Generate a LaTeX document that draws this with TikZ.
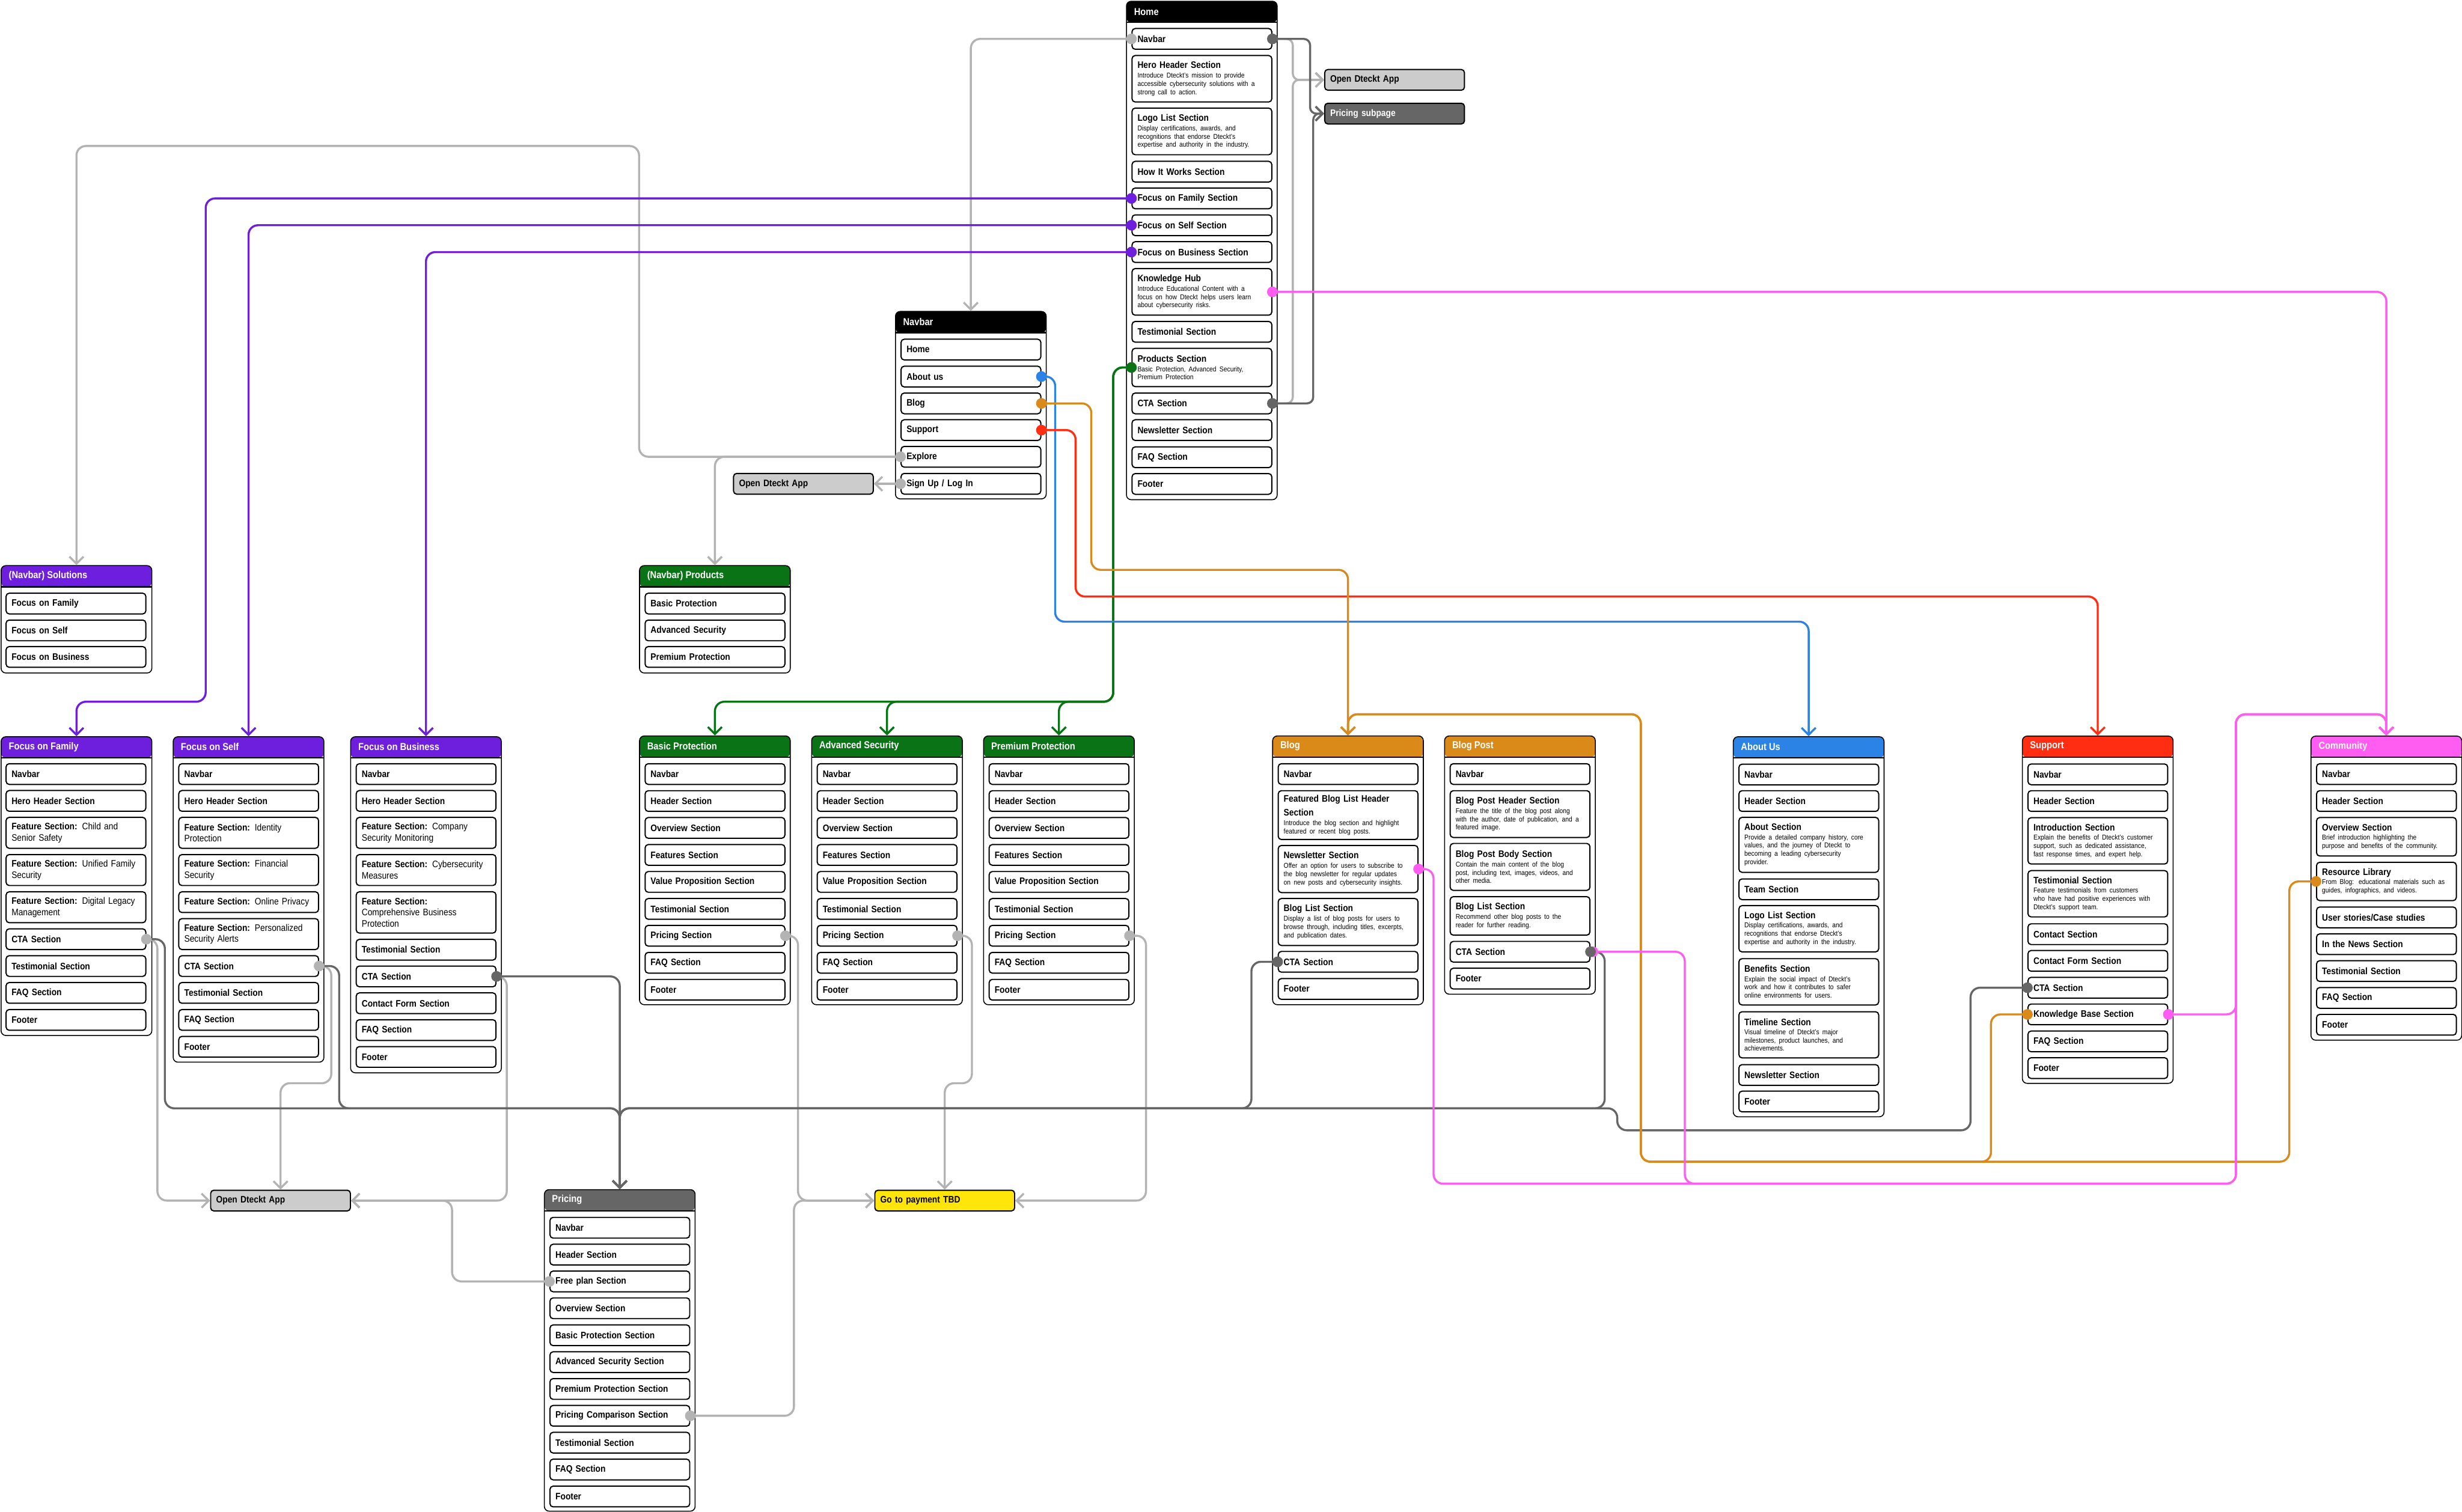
\documentclass[tikz,border=0pt]{standalone}
\usepackage{fontspec}
\setmainfont{Liberation Sans}[FakeStretch=0.88]
\usetikzlibrary{arrows.meta}
\definecolor{navpurple}{HTML}{6E1FDD}
\definecolor{navgreen}{HTML}{0A7316}
\definecolor{navorange}{HTML}{D98A18}
\definecolor{navblue}{HTML}{2B83E6}
\definecolor{navred}{HTML}{FF2E12}
\definecolor{navpink}{HTML}{FF5CF2}
\definecolor{darkline}{HTML}{666666}
\definecolor{lightline}{HTML}{B3B3B3}
\definecolor{boxgray}{HTML}{CCCCCC}
\definecolor{payyellow}{HTML}{FFE50A}
\newcommand{\rowdesc}{\fontsize{4.5}{5.3}\selectfont\mdseries}

\begin{document}
\begin{tikzpicture}[x=1pt, y=-1pt,
panel/.style={draw, line width=0.6pt, rounded corners=3pt, fill=white, anchor=north west,
  inner sep=0pt, minimum width=96pt,
  path picture={\fill[#1] (path picture bounding box.north west) rectangle
    ([yshift=-13.5pt]path picture bounding box.north east);
    \draw[line width=0.8pt] ([yshift=-13.5pt]path picture bounding box.north west) --
    ([yshift=-13.5pt]path picture bounding box.north east);}},
headtext/.style={anchor=west, text=white, inner sep=0pt, font=\fontsize{6.4}{7.5}\selectfont\bfseries},
secbox/.style={draw, line width=0.75pt, rounded corners=2pt, fill=white, anchor=north west,
  text width=82pt, inner xsep=3.5pt, inner ysep=0.5pt, minimum height=13.2pt, align=left,
  font=\fontsize{6}{7.2}\selectfont\bfseries},
gobox/.style={secbox, fill=#1},
arrow/.style={line width=1.3pt, rounded corners=6pt, -{Straight Barb[length=4.5pt, width=9pt]}}
]
\path[use as bounding box, fill=white] (0,0) rectangle (1568,963);

% Home
\node[panel=black, minimum height=317.5pt] (home) at (717.1,0.5) {};
\node[headtext] (homet) at ([shift={(5,7)}]home.north west) {Home};
\node[secbox] (hnav) at (720.6,17.8) {Navbar};
\node[secbox, minimum height=29.6pt] (hhero) at (720.6,35) {Hero Header Section\\[0.8pt]\rowdesc Introduce Dteckt's mission to provide\\accessible cybersecurity solutions with a\\strong call to action.\par};
\node[secbox, minimum height=29.7pt] (hlogo) at (720.6,68.5) {Logo List Section\\[0.8pt]\rowdesc Display certifications, awards, and\\recognitions that endorse Dteckt's\\expertise and authority in the industry.\par};
\node[secbox] (hhow) at (720.6,102.4) {How It Works Section};
\node[secbox] (hfam) at (720.6,119.4) {Focus on Family Section};
\node[secbox] (hself) at (720.6,136.5) {Focus on Self Section};
\node[secbox] (hbus) at (720.6,153.6) {Focus on Business Section};
\node[secbox, minimum height=29.7pt] (hknow) at (720.6,170.7) {Knowledge Hub\\[0.8pt]\rowdesc Introduce Educational Content with a\\focus on how Dteckt helps users learn\\about cybersecurity risks.\par};
\node[secbox] (htest) at (720.6,204.4) {Testimonial Section};
\node[secbox, minimum height=24.4pt] (hprod) at (720.6,221.5) {Products Section\\[0.8pt]\rowdesc Basic Protection, Advanced Security,\\Premium Protection\par};
\node[secbox] (hcta) at (720.6,250) {CTA Section};
\node[secbox] (hnews) at (720.6,267) {Newsletter Section};
\node[secbox] (hfaq) at (720.6,284.3) {FAQ Section};
\node[secbox] (hfoot) at (720.6,301.3) {Footer};

\node[gobox=boxgray] (apptop) at (843.3,43.9) {Open Dteckt App};
\node[gobox=darkline, text=white] (pricesub) at (843.3,65.4) {Pricing subpage};

% Navbar
\node[panel=black, minimum height=119.4pt] (navp) at (570,198.1) {};
\node[headtext] (navpt) at ([shift={(5,7)}]navp.north west) {Navbar};
\node[secbox] (nhome) at (573.5,215.7) {Home};
\node[secbox] (nabout) at (573.5,232.9) {About us};
\node[secbox] (nblog) at (573.5,250) {Blog};
\node[secbox] (nsupp) at (573.5,267) {Support};
\node[secbox] (nexp) at (573.5,284) {Explore};
\node[secbox] (nsign) at (573.5,301.2) {Sign Up / Log In};
\node[gobox=boxgray] (appnav) at (466.8,301.2) {Open Dteckt App};

% (Navbar) Solutions and Products
\node[panel=navpurple, minimum height=68.4pt] (sol) at (0.4,360) {};
\node[headtext] (solt) at ([shift={(5,6.8)}]sol.north west) {(Navbar) Solutions};
\node[secbox] (sol1) at (3.5,377.5) {Focus on Family};
\node[secbox] (sol2) at (3.5,394.6) {Focus on Self};
\node[secbox] (sol3) at (3.5,411.5) {Focus on Business};
\node[panel=navgreen, minimum height=68.4pt] (prodn) at (407,360) {};
\node[headtext] (prodnt) at ([shift={(5,6.8)}]prodn.north west) {(Navbar) Products};
\node[secbox] (prodn1) at (410.5,377.5) {Basic Protection};
\node[secbox] (prodn2) at (410.5,394.6) {Advanced Security};
\node[secbox] (prodn3) at (410.5,411.5) {Premium Protection};

% Focus on Family
\node[panel=navpurple, minimum height=190.3pt] (fam) at (0.4,469) {};
\node[headtext] (famt) at ([shift={(5,6.8)}]fam.north west) {Focus on Family};
\node[secbox] (fnav) at (3.5,486.1) {Navbar};
\node[secbox] (fhero) at (3.5,503.2) {Hero Header Section};
\node[secbox, minimum height=19.7pt] (ff1) at (3.5,520.3) {Feature Section: \mdseries Child and\\Senior Safety};
\node[secbox, minimum height=19.7pt] (ff2) at (3.5,544) {Feature Section: \mdseries Unified Family\\Security};
\node[secbox, minimum height=19.7pt] (ff3) at (3.5,567.7) {Feature Section: \mdseries Digital Legacy\\Management};
\node[secbox] (fcta) at (3.5,591.3) {CTA Section};
\node[secbox] (ftest) at (3.5,608.4) {Testimonial Section};
\node[secbox] (ffaq) at (3.5,625.5) {FAQ Section};
\node[secbox] (ffoot) at (3.5,642.7) {Footer};

% Focus on Self
\node[panel=navpurple, minimum height=207.3pt] (self) at (110,469) {};
\node[headtext] (selft) at ([shift={(5,6.8)}]self.north west) {Focus on Self};
\node[secbox] (snav) at (113.5,486.1) {Navbar};
\node[secbox] (shero) at (113.5,503.2) {Hero Header Section};
\node[secbox, minimum height=19.7pt] (sf1) at (113.5,520.3) {Feature Section: \mdseries Identity\\Protection};
\node[secbox, minimum height=19.7pt] (sf2) at (113.5,544) {Feature Section: \mdseries Financial\\Security};
\node[secbox] (sf3) at (113.5,567.7) {Feature Section: \mdseries Online Privacy};
\node[secbox, minimum height=19.7pt] (sf4) at (113.5,584.8) {Feature Section: \mdseries Personalized\\Security Alerts};
\node[secbox] (scta) at (113.5,608.4) {CTA Section};
\node[secbox] (stest) at (113.5,625.5) {Testimonial Section};
\node[secbox] (sfaq) at (113.5,642.7) {FAQ Section};
\node[secbox] (sfoot) at (113.5,659.8) {Footer};

% Focus on Business
\node[panel=navpurple, minimum height=214.1pt] (bus) at (223,469) {};
\node[headtext] (bust) at ([shift={(5,6.8)}]bus.north west) {Focus on Business};
\node[secbox] (bnav) at (226.5,486.1) {Navbar};
\node[secbox] (bhero) at (226.5,503.2) {Hero Header Section};
\node[secbox, minimum height=19.7pt] (bf1) at (226.5,520.3) {Feature Section: \mdseries Company\\Security Monitoring};
\node[secbox, minimum height=19.7pt] (bf2) at (226.5,544) {Feature Section: \mdseries Cybersecurity\\Measures};
\node[secbox, minimum height=26.3pt] (bf3) at (226.5,567.7) {Feature Section:\\\mdseries Comprehensive Business\\Protection};
\node[secbox] (btest) at (226.5,598) {Testimonial Section};
\node[secbox] (bcta) at (226.5,615) {CTA Section};
\node[secbox] (bcont) at (226.5,632.1) {Contact Form Section};
\node[secbox] (bfaq) at (226.5,649.2) {FAQ Section};
\node[secbox] (bfoot) at (226.5,666.3) {Footer};

% Basic Protection
\node[panel=navgreen, minimum height=171.2pt] (basic) at (407,468.5) {};
\node[headtext] (basict) at ([shift={(5,6.8)}]basic.north west) {Basic Protection};
\node[secbox] (basicnav) at (410.5,486.1) {Navbar};
\node[secbox] (basichd) at (410.5,503.3) {Header Section};
\node[secbox] (basicov) at (410.5,520.4) {Overview Section};
\node[secbox] (basicft) at (410.5,537.6) {Features Section};
\node[secbox] (basicvp) at (410.5,554.8) {Value Proposition Section};
\node[secbox] (basicts) at (410.5,572) {Testimonial Section};
\node[secbox] (basicpr) at (410.5,589.1) {Pricing Section};
\node[secbox] (basicfq) at (410.5,606.3) {FAQ Section};
\node[secbox] (basicfo) at (410.5,623.5) {Footer};

% Advanced Security
\node[panel=navgreen, minimum height=171.2pt] (adv) at (516.6,468.5) {};
\node[headtext] (advt) at ([shift={(5,6.8)}]adv.north west) {Advanced Security};
\node[secbox] (advnav) at (520.1,486.1) {Navbar};
\node[secbox] (advhd) at (520.1,503.3) {Header Section};
\node[secbox] (advov) at (520.1,520.4) {Overview Section};
\node[secbox] (advft) at (520.1,537.6) {Features Section};
\node[secbox] (advvp) at (520.1,554.8) {Value Proposition Section};
\node[secbox] (advts) at (520.1,572) {Testimonial Section};
\node[secbox] (advpr) at (520.1,589.1) {Pricing Section};
\node[secbox] (advfq) at (520.1,606.3) {FAQ Section};
\node[secbox] (advfo) at (520.1,623.5) {Footer};

% Premium Protection
\node[panel=navgreen, minimum height=171.2pt] (prem) at (626.1,468.5) {};
\node[headtext] (premt) at ([shift={(5,6.8)}]prem.north west) {Premium Protection};
\node[secbox] (premnav) at (629.6,486.1) {Navbar};
\node[secbox] (premhd) at (629.6,503.3) {Header Section};
\node[secbox] (premov) at (629.6,520.4) {Overview Section};
\node[secbox] (premft) at (629.6,537.6) {Features Section};
\node[secbox] (premvp) at (629.6,554.8) {Value Proposition Section};
\node[secbox] (premts) at (629.6,572) {Testimonial Section};
\node[secbox] (prempr) at (629.6,589.1) {Pricing Section};
\node[secbox] (premfq) at (629.6,606.3) {FAQ Section};
\node[secbox] (premfo) at (629.6,623.5) {Footer};

% Blog
\node[panel=navorange, minimum height=171.2pt] (blog) at (810.2,468.5) {};
\node[headtext] (blogt) at ([shift={(5,6.8)}]blog.north west) {Blog};
\node[secbox] (blnav) at (813.7,486.1) {Navbar};
\node[secbox, minimum height=31.1pt] (blfeat) at (813.7,503.3) {Featured Blog List Header\\[1.6pt]Section\\[0.8pt]\rowdesc Introduce the blog section and highlight\\featured or recent blog posts.\par};
\node[secbox, minimum height=30pt] (blnews) at (813.7,538.2) {Newsletter Section\\[0.8pt]\rowdesc Offer an option for users to subscribe to\\the blog newsletter for regular updates\\on new posts and cybersecurity insights.\par};
\node[secbox, minimum height=29.9pt] (bllist) at (813.7,572) {Blog List Section\\[0.8pt]\rowdesc Display a list of blog posts for users to\\browse through, including titles, excerpts,\\and publication dates.\par};
\node[secbox] (blcta) at (813.7,605.7) {CTA Section};
\node[secbox] (blfoot) at (813.7,623) {Footer};

% Blog Post
\node[panel=navorange, minimum height=164.5pt] (bpost) at (919.7,468.5) {};
\node[headtext] (bpostt) at ([shift={(5,6.8)}]bpost.north west) {Blog Post};
\node[secbox] (bpnav) at (923.2,486.1) {Navbar};
\node[secbox, minimum height=29.8pt] (bphead) at (923.2,503.3) {Blog Post Header Section\\[0.8pt]\rowdesc Feature the title of the blog post along\\with the author, date of publication, and a\\featured image.\par};
\node[secbox, minimum height=29.9pt] (bpbody) at (923.2,536.9) {Blog Post Body Section\\[0.8pt]\rowdesc Contain the main content of the blog\\post, including text, images, videos, and\\other media.\par};
\node[secbox, minimum height=24.5pt] (bplist) at (923.2,570.8) {Blog List Section\\[0.8pt]\rowdesc Recommend other blog posts to the\\reader for further reading.\par};
\node[secbox] (bpcta) at (923.2,599.3) {CTA Section};
\node[secbox] (bpfoot) at (923.2,616.4) {Footer};

% About Us
\node[panel=navblue, minimum height=242.1pt] (about) at (1103.6,469) {};
\node[headtext] (aboutt) at ([shift={(5,6.8)}]about.north west) {About Us};
\node[secbox] (anav) at (1107.1,486.4) {Navbar};
\node[secbox] (ahead) at (1107.1,503.3) {Header Section};
\node[secbox, minimum height=35pt] (aabout) at (1107.1,520.3) {About Section\\[0.5pt]\rowdesc Provide a detailed company history, core\\values, and the journey of Dteckt to\\becoming a leading cybersecurity\\provider.\par};
\node[secbox] (ateam) at (1107.1,559.5) {Team Section};
\node[secbox, minimum height=29.5pt] (alogo) at (1107.1,576.5) {Logo List Section\\[0.5pt]\rowdesc Display certifications, awards, and\\recognitions that endorse Dteckt's\\expertise and authority in the industry.\par};
\node[secbox, minimum height=29.5pt] (aben) at (1107.1,610.3) {Benefits Section\\[0.5pt]\rowdesc Explain the social impact of Dteckt's\\work and how it contributes to safer\\online environments for users.\par};
\node[secbox, minimum height=29.4pt] (atime) at (1107.1,644.1) {Timeline Section\\[0.5pt]\rowdesc Visual timeline of Dteckt's major\\milestones, product launches, and\\achievements.\par};
\node[secbox] (anews) at (1107.1,677.8) {Newsletter Section};
\node[secbox] (afoot) at (1107.1,694.7) {Footer};

% Support
\node[panel=navred, minimum height=221.2pt] (supp) at (1287.7,468.6) {};
\node[headtext] (suppt) at ([shift={(5,6.8)}]supp.north west) {Support};
\node[secbox] (unav) at (1291.2,486.3) {Navbar};
\node[secbox] (uhead) at (1291.2,503.3) {Header Section};
\node[secbox, minimum height=29.5pt] (uintro) at (1291.2,520.5) {Introduction Section\\[0.5pt]\rowdesc Explain the benefits of Dteckt's customer\\support, such as dedicated assistance,\\fast response times, and expert help.\par};
\node[secbox, minimum height=29.5pt] (utest) at (1291.2,554.2) {Testimonial Section\\[0.5pt]\rowdesc Feature testimonials from customers\\who have had positive experiences with\\Dteckt's support team.\par};
\node[secbox] (ucont) at (1291.2,588.1) {Contact Section};
\node[secbox] (uform) at (1291.2,605.1) {Contact Form Section};
\node[secbox] (ucta) at (1291.2,622.2) {CTA Section};
\node[secbox] (ukb) at (1291.2,639.2) {Knowledge Base Section};
\node[secbox] (ufaq) at (1291.2,656.4) {FAQ Section};
\node[secbox] (ufoot) at (1291.2,673.4) {Footer};

% Community
\node[panel=navpink, minimum height=193.7pt] (comm) at (1471.5,468.6) {};
\node[headtext] (commt) at ([shift={(5,6.8)}]comm.north west) {Community};
\node[secbox] (cnav) at (1475,486.1) {Navbar};
\node[secbox] (chead) at (1475,503.3) {Header Section};
\node[secbox, minimum height=24.5pt] (cover) at (1475,520.4) {Overview Section\\[0.5pt]\rowdesc Brief introduction highlighting the\\purpose and benefits of the community.\par};
\node[secbox, minimum height=24.4pt] (cres) at (1475,548.9) {Resource Library\\[0.5pt]\rowdesc From Blog: educational materials such as\\guides, infographics, and videos.\par};
\node[secbox] (cuser) at (1475,577.4) {User stories/Case studies};
\node[secbox] (cnews) at (1475,594.5) {In the News Section};
\node[secbox] (ctest) at (1475,611.6) {Testimonial Section};
\node[secbox] (cfaq) at (1475,628.7) {FAQ Section};
\node[secbox] (cfoot) at (1475,645.8) {Footer};

% Pricing
\node[panel=darkline, minimum height=204.8pt] (pricing) at (346.4,757.5) {};
\node[headtext] (pricingt) at ([shift={(5,6.8)}]pricing.north west) {Pricing};
\node[secbox] (pnav) at (349.9,775.1) {Navbar};
\node[secbox] (phead) at (349.9,792.2) {Header Section};
\node[secbox] (pfree) at (349.9,809.3) {Free plan Section};
\node[secbox] (pover) at (349.9,826.4) {Overview Section};
\node[secbox] (pbasic) at (349.9,843.6) {Basic Protection Section};
\node[secbox] (padv) at (349.9,860.7) {Advanced Security Section};
\node[secbox] (pprem) at (349.9,877.8) {Premium Protection Section};
\node[secbox] (pcomp) at (349.9,894.9) {Pricing Comparison Section};
\node[secbox] (ptest) at (349.9,912) {Testimonial Section};
\node[secbox] (pfaq) at (349.9,929.1) {FAQ Section};
\node[secbox] (pfoot) at (349.9,946.3) {Footer};

\node[gobox=boxgray] (appbot) at (133.8,757.8) {Open Dteckt App};
\node[gobox=payyellow] (pay) at (556.8,757.8) {Go to payment TBD};

% light grey links
\draw[arrow, lightline] (hnav.west) -| (navp.north);
\draw[arrow, lightline, rounded corners=4pt] (hnav.east) -- ++(13,0) |- (apptop.west);
\draw[arrow, lightline, rounded corners=4pt] (hcta.east) -- ++(13,0) |- (apptop.west);
\draw[arrow, lightline] (nexp.west) -| (407,93) -| (sol.north);
\draw[arrow, lightline] (nexp.west) -| (prodn.north);
\draw[arrow, lightline] (nsign.west) -- (appnav.east);
\draw[arrow, lightline] (fcta.east) -- ++(7,0) |- (appbot.west);
\draw[arrow, lightline] (scta.east) -| (211,690) -| (appbot.north);
\draw[arrow, lightline] (bcta.east) -- ++(6.5,0) |- (appbot.east);
\draw[arrow, lightline] (pfree.west) -- ++(-62,0) |- (appbot.east);
\draw[arrow, lightline] (basicpr.east) -- ++(8,0) |- (pay.west);
\draw[arrow, lightline] (pcomp.east) -- ++(66,0) |- (pay.west);
\draw[arrow, lightline] (advpr.east) -| (619,690) -| (pay.north);
\draw[arrow, lightline] (prempr.east) -- ++(10.5,0) |- (pay.east);

% dark grey links
\draw[arrow, darkline, rounded corners=4pt] (hnav.east) -- ++(24,0) |- (pricesub.west);
\draw[arrow, darkline, rounded corners=4pt] (hcta.east) -- ++(26,0) |- (pricesub.west);
\draw[arrow, darkline] (fcta.east) -| (105,706) -| (pricing.north);
\draw[arrow, darkline] (scta.east) -| (216,706) -| (pricing.north);
\draw[arrow, darkline] (bcta.east) -| (pricing.north);
\draw[arrow, darkline] (blcta.west) -| (797,706) -| (pricing.north);
\draw[arrow, darkline] (bpcta.east) -| (1022,706) -| (pricing.north);
\draw[arrow, darkline] (ucta.west) -| (1255,720) -| (1030,706) -| (pricing.north);

% coloured links
\draw[arrow, navpurple] (hfam.west) -| (131,447) -| (fam.north);
\draw[arrow, navpurple] (hself.west) -| (self.north);
\draw[arrow, navpurple] (hbus.west) -| (bus.north);
\draw[arrow, navgreen] (hprod.west) -| (709,447) -| (basic.north);
\draw[arrow, navgreen] (hprod.west) -| (709,447) -| (adv.north);
\draw[arrow, navgreen] (hprod.west) -| (709,447) -| (prem.north);
\draw[arrow, navblue] (nabout.east) -| (672,396) -| (about.north);
\draw[arrow, navred] (nsupp.east) -| (685,380) -| (supp.north);
\draw[arrow, navorange] (nblog.east) -| (695,363) -| (blog.north);
\draw[arrow, navorange] (ukb.west) -| (1268,740) -| (1045,455) -| (blog.north);
\draw[arrow, navorange] (cres.west) -| (1458,740) -| (1045,455) -| (blog.north);
\draw[arrow, navpink] (hknow.east) -| (comm.north);
\draw[arrow, navpink] (blnews.east) -| (913,754) -| (1424,455) -| (comm.north);
\draw[arrow, navpink] (bpcta.east) -| (1073,754) -| (1424,455) -| (comm.north);
\draw[arrow, navpink] (ukb.east) -| (1424,455) -| (comm.north);

% dots
\fill[navpink] ([xshift=1.5pt]bpcta.east) circle (3.4pt);
\foreach \p in {hnav.west, nexp.west, nsign.west, fcta.east, scta.east, pfree.west,
  pcomp.east, basicpr.east, advpr.east, prempr.east}
  \fill[lightline] (\p) circle (3.4pt);
\foreach \p in {hnav.east, hcta.east, bcta.east, blcta.west, bpcta.east, ucta.west}
  \fill[darkline] (\p) circle (3.4pt);
\foreach \p in {hfam.west, hself.west, hbus.west}
  \fill[navpurple] (\p) circle (3.4pt);
\fill[navgreen] (hprod.west) circle (3.4pt);
\fill[navblue] (nabout.east) circle (3.4pt);
\fill[navred] (nsupp.east) circle (3.4pt);
\foreach \p in {nblog.east, ukb.west, cres.west}
  \fill[navorange] (\p) circle (3.4pt);
\foreach \p in {hknow.east, blnews.east, ukb.east}
  \fill[navpink] (\p) circle (3.4pt);
\end{tikzpicture}
\end{document}
